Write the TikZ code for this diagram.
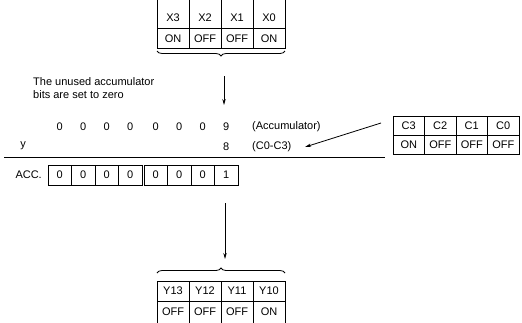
\documentclass[tikz,border=0pt]{standalone}
\usepackage{fontspec}
\setmainfont{Liberation Sans}
\usetikzlibrary{decorations.pathreplacing,arrows.meta}
\begin{document}
\begin{tikzpicture}[x=1pt,y=-1pt,
  every node/.style={font=\fontsize{11}{13}\selectfont, inner sep=0pt},
  grid/.style={line width=0.9pt},
  acell/.style={draw, line width=0.9pt, minimum width=23.5pt, minimum height=20pt, anchor=center},
  ccell/.style={draw, line width=0.9pt, minimum width=31.5pt, minimum height=19pt, anchor=center},
  arr/.style={line width=0.8pt, -{Stealth[length=6pt,width=3.4pt]}},
  brc/.style={line width=0.8pt, decorate, decoration={brace, amplitude=5pt}}]
\useasboundingbox (0,0) rectangle (522,322);
% top X table (top edge cut off by the frame)
\draw[grid] (157,-3) rectangle (285,48);
\draw[grid] (157,28) -- (285,28);
\foreach \x in {189,221,253}{\draw[grid] (\x,-3) -- (\x,48);}
\foreach \t [count=\i from 0] in {X3,X2,X1,X0}{
  \node (x\i) at ({173+32*\i},18) {\t};}
\foreach \t [count=\i from 0] in {ON,OFF,OFF,ON}{
  \node (xs\i) at ({173+32*\i},38.5) {\t};}
\draw[brc] (285,51) -- (157,51);
\coordinate (ta) at (224,76);
\coordinate (tb) at (224,105);
\draw[arr] (ta) -- (tb);
% note
\node[anchor=north west, align=left, font=\fontsize{11}{13.5}\selectfont] (note) at (33,77) {The unused accumulator\\bits are set to zero};
% digit rows
\foreach \x [count=\i from 0] in {59.75,83.25,106.75,130.25,155.75,179.25,202.75}{
  \node (d\i) at (\x,127) {0};}
\node (d7) at (226.25,127) {9};
\node[anchor=west] (acclbl) at (252,127) {(Accumulator)};
\node (yy) at (23,146) {y};
\node (e8) at (226.25,147) {8};
\node[anchor=west] (clbl) at (252,147) {(C0-C3)};
\coordinate (la) at (4,157);
\coordinate (lb) at (385,157);
\draw[line width=1pt] (la) -- (lb);
% C table
\foreach \t [count=\i from 0] in {C3,C2,C1,C0}{
  \node[ccell] (c\i) at ({408.75+31.5*\i},125.5) {\t};}
\foreach \t [count=\i from 0] in {ON,OFF,OFF,OFF}{
  \node[ccell] (cs\i) at ({408.75+31.5*\i},144.5) {\t};}
\coordinate (ca) at (381,123);
\coordinate (cb) at (305,147);
\draw[arr] (ca) -- (cb);
% ACC
\node[anchor=east] (acc) at (42,175) {ACC.};
\foreach \x/\t [count=\i from 0] in {59.75/0,83.25/0,106.75/0,130.25/0,155.75/0,179.25/0,202.75/0,226.25/1}{
  \node[acell] (a\i) at (\x,175) {\t};}
\coordinate (ba) at (225,203);
\coordinate (bb) at (225,259);
\draw[arr] (ba) -- (bb);
\draw[brc] (157,273) -- (285,273);
% Y table (bottom edge cut off by the frame)
\draw[grid] (157,281) rectangle (285,326);
\draw[grid] (157,301) -- (285,301);
\foreach \x in {189,221,253}{\draw[grid] (\x,281) -- (\x,326);}
\foreach \t [count=\i from 0] in {Y13,Y12,Y11,Y10}{
  \node (y\i) at ({173+32*\i},291) {\t};}
\foreach \t [count=\i from 0] in {OFF,OFF,OFF,ON}{
  \node (ys\i) at ({173+32*\i},312) {\t};}
\end{tikzpicture}
\end{document}
